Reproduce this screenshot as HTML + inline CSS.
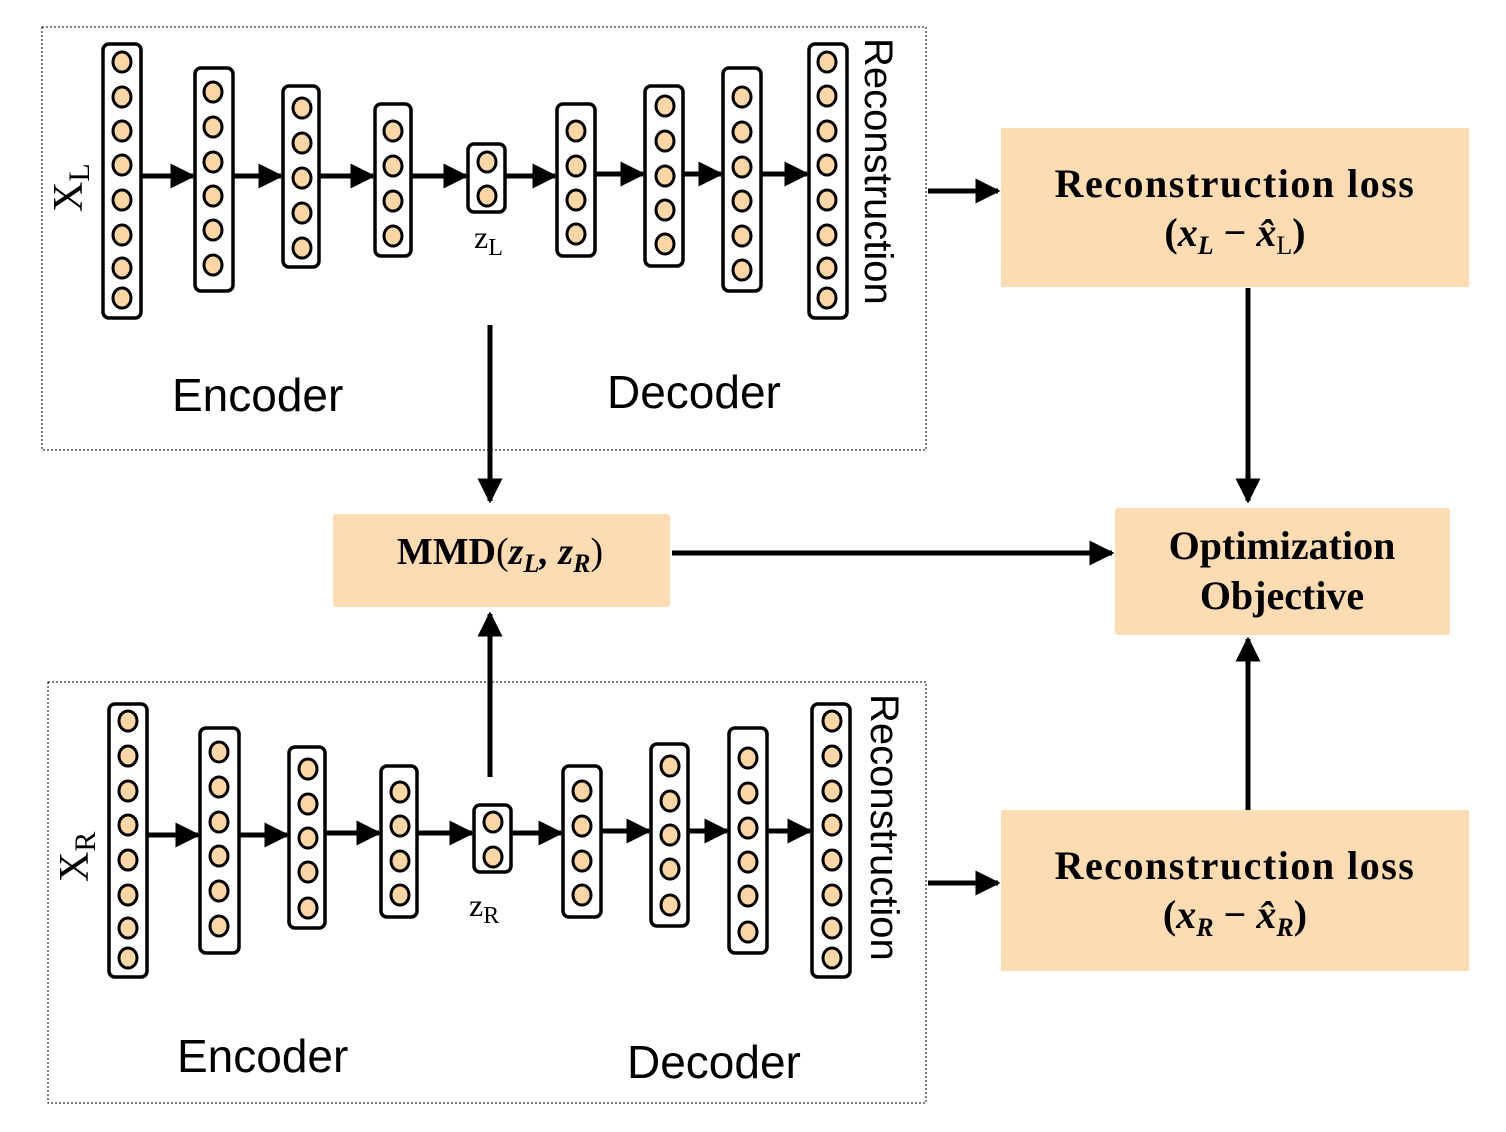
<!DOCTYPE html>
<html><head><meta charset="utf-8"><style>
html,body{margin:0;padding:0;background:#fff;}
svg{display:block}
.col{fill:#fff;stroke:#000;stroke-width:3.5}
.n{fill:#fcd6a6;stroke:#000;stroke-width:3}
.bx{fill:#fddcb4}
.t{font-family:"Liberation Serif",serif;font-weight:bold;fill:#000}
.s{font-family:"Liberation Sans",sans-serif;fill:#000}
</style></head><body>
<svg width="1506" height="1132" viewBox="0 0 1506 1132" xmlns="http://www.w3.org/2000/svg">
<defs>
<marker id="b" markerWidth="5" markerHeight="5" refX="4.5" refY="2.5" orient="auto" markerUnits="strokeWidth"><path d="M0,0L5,2.5L0,5z" fill="#000"/></marker>
</defs>
<rect x="42" y="27" width="884" height="423" fill="none" stroke="#000" stroke-width="1" stroke-dasharray="2,2"/>
<rect x="48" y="682" width="878" height="421" fill="none" stroke="#000" stroke-width="1" stroke-dasharray="2,2"/>

<g stroke="#000" stroke-width="5" marker-end="url(#b)">
<line x1="141" y1="176" x2="193" y2="176"/><line x1="233" y1="176" x2="281" y2="176"/>
<line x1="319" y1="176" x2="373" y2="176"/><line x1="411" y1="176" x2="466" y2="176"/>
<line x1="505" y1="176" x2="555" y2="176"/><line x1="595" y1="174" x2="643" y2="174"/>
<line x1="683" y1="174" x2="721" y2="174"/><line x1="761" y1="174" x2="807" y2="174"/>
<line x1="147" y1="835" x2="198" y2="835"/><line x1="239" y1="835" x2="287" y2="835"/>
<line x1="325" y1="833" x2="379" y2="833"/><line x1="417" y1="833" x2="472" y2="833"/>
<line x1="511" y1="833" x2="561" y2="833"/><line x1="601" y1="831" x2="649" y2="831"/>
<line x1="688" y1="831" x2="727" y2="831"/><line x1="767" y1="831" x2="810" y2="831"/>
</g>

<rect class="col" x="103" y="44" width="38" height="274" rx="6"/>
<g class="n"><ellipse cx="122" cy="62" rx="9" ry="10"/><ellipse cx="122" cy="97" rx="9" ry="10"/><ellipse cx="122" cy="131" rx="9" ry="10"/><ellipse cx="122" cy="165" rx="9" ry="10"/><ellipse cx="122" cy="200" rx="9" ry="10"/><ellipse cx="122" cy="235" rx="9" ry="10"/><ellipse cx="122" cy="268" rx="9" ry="10"/><ellipse cx="122" cy="298" rx="9" ry="10"/></g>
<rect class="col" x="195" y="68" width="38" height="223" rx="6"/>
<g class="n"><ellipse cx="213" cy="92" rx="9" ry="10"/><ellipse cx="213" cy="127" rx="9" ry="10"/><ellipse cx="213" cy="162" rx="9" ry="10"/><ellipse cx="213" cy="196" rx="9" ry="10"/><ellipse cx="213" cy="230" rx="9" ry="10"/><ellipse cx="213" cy="265" rx="9" ry="10"/></g>
<rect class="col" x="283" y="86" width="36" height="181" rx="6"/>
<g class="n"><ellipse cx="302" cy="108" rx="9" ry="10"/><ellipse cx="302" cy="143" rx="9" ry="10"/><ellipse cx="302" cy="178" rx="9" ry="10"/><ellipse cx="302" cy="213" rx="9" ry="10"/><ellipse cx="302" cy="248" rx="9" ry="10"/></g>
<rect class="col" x="375" y="104" width="36" height="152" rx="6"/>
<g class="n"><ellipse cx="393" cy="131" rx="9" ry="10"/><ellipse cx="393" cy="166" rx="9" ry="10"/><ellipse cx="393" cy="201" rx="9" ry="10"/><ellipse cx="393" cy="236" rx="9" ry="10"/></g>
<rect class="col" x="468" y="144" width="37" height="68" rx="6"/>
<g class="n"><ellipse cx="487" cy="162" rx="9" ry="10"/><ellipse cx="487" cy="196" rx="9" ry="10"/></g>
<rect class="col" x="557" y="104" width="38" height="152" rx="6"/>
<g class="n"><ellipse cx="576" cy="131" rx="9" ry="10"/><ellipse cx="576" cy="166" rx="9" ry="10"/><ellipse cx="576" cy="200" rx="9" ry="10"/><ellipse cx="576" cy="234" rx="9" ry="10"/></g>
<rect class="col" x="645" y="86" width="38" height="180" rx="6"/>
<g class="n"><ellipse cx="665" cy="106" rx="9" ry="10"/><ellipse cx="665" cy="141" rx="9" ry="10"/><ellipse cx="665" cy="176" rx="9" ry="10"/><ellipse cx="665" cy="210" rx="9" ry="10"/><ellipse cx="665" cy="244" rx="9" ry="10"/></g>
<rect class="col" x="723" y="68" width="38" height="223" rx="6"/>
<g class="n"><ellipse cx="742" cy="97" rx="9" ry="10"/><ellipse cx="742" cy="132" rx="9" ry="10"/><ellipse cx="742" cy="167" rx="9" ry="10"/><ellipse cx="742" cy="201" rx="9" ry="10"/><ellipse cx="742" cy="236" rx="9" ry="10"/><ellipse cx="742" cy="270" rx="9" ry="10"/></g>
<rect class="col" x="809" y="44" width="38" height="274" rx="6"/>
<g class="n"><ellipse cx="827" cy="62" rx="9" ry="10"/><ellipse cx="827" cy="96" rx="9" ry="10"/><ellipse cx="827" cy="131" rx="9" ry="10"/><ellipse cx="827" cy="165" rx="9" ry="10"/><ellipse cx="827" cy="200" rx="9" ry="10"/><ellipse cx="827" cy="235" rx="9" ry="10"/><ellipse cx="827" cy="268" rx="9" ry="10"/><ellipse cx="827" cy="298" rx="9" ry="10"/></g>

<rect class="col" x="109" y="704" width="38" height="273" rx="6"/>
<g class="n"><ellipse cx="128" cy="721" rx="9" ry="10"/><ellipse cx="128" cy="756" rx="9" ry="10"/><ellipse cx="128" cy="791" rx="9" ry="10"/><ellipse cx="128" cy="825" rx="9" ry="10"/><ellipse cx="128" cy="860" rx="9" ry="10"/><ellipse cx="128" cy="895" rx="9" ry="10"/><ellipse cx="128" cy="928" rx="9" ry="10"/><ellipse cx="128" cy="958" rx="9" ry="10"/></g>
<rect class="col" x="200" y="728" width="39" height="225" rx="6"/>
<g class="n"><ellipse cx="219" cy="752" rx="9" ry="10"/><ellipse cx="219" cy="787" rx="9" ry="10"/><ellipse cx="219" cy="822" rx="9" ry="10"/><ellipse cx="219" cy="856" rx="9" ry="10"/><ellipse cx="219" cy="891" rx="9" ry="10"/><ellipse cx="219" cy="926" rx="9" ry="10"/></g>
<rect class="col" x="289" y="747" width="36" height="181" rx="6"/>
<g class="n"><ellipse cx="308" cy="769" rx="9" ry="10"/><ellipse cx="308" cy="804" rx="9" ry="10"/><ellipse cx="308" cy="838" rx="9" ry="10"/><ellipse cx="308" cy="872" rx="9" ry="10"/><ellipse cx="308" cy="908" rx="9" ry="10"/></g>
<rect class="col" x="381" y="766" width="36" height="151" rx="6"/>
<g class="n"><ellipse cx="400" cy="792" rx="9" ry="10"/><ellipse cx="400" cy="826" rx="9" ry="10"/><ellipse cx="400" cy="861" rx="9" ry="10"/><ellipse cx="400" cy="895" rx="9" ry="10"/></g>
<rect class="col" x="474" y="805" width="37" height="67" rx="6"/>
<g class="n"><ellipse cx="493" cy="822" rx="9" ry="10"/><ellipse cx="493" cy="857" rx="9" ry="10"/></g>
<rect class="col" x="563" y="766" width="38" height="151" rx="6"/>
<g class="n"><ellipse cx="582" cy="791" rx="9" ry="10"/><ellipse cx="582" cy="826" rx="9" ry="10"/><ellipse cx="582" cy="861" rx="9" ry="10"/><ellipse cx="582" cy="895" rx="9" ry="10"/></g>
<rect class="col" x="651" y="744" width="37" height="182" rx="6"/>
<g class="n"><ellipse cx="670" cy="766" rx="9" ry="10"/><ellipse cx="670" cy="801" rx="9" ry="10"/><ellipse cx="670" cy="835" rx="9" ry="10"/><ellipse cx="670" cy="869" rx="9" ry="10"/><ellipse cx="670" cy="905" rx="9" ry="10"/></g>
<rect class="col" x="729" y="728" width="38" height="225" rx="6"/>
<g class="n"><ellipse cx="748" cy="758" rx="9" ry="10"/><ellipse cx="748" cy="793" rx="9" ry="10"/><ellipse cx="748" cy="828" rx="9" ry="10"/><ellipse cx="748" cy="862" rx="9" ry="10"/><ellipse cx="748" cy="896" rx="9" ry="10"/><ellipse cx="748" cy="932" rx="9" ry="10"/></g>
<rect class="col" x="812" y="704" width="38" height="273" rx="6"/>
<g class="n"><ellipse cx="832" cy="721" rx="9" ry="10"/><ellipse cx="832" cy="756" rx="9" ry="10"/><ellipse cx="832" cy="791" rx="9" ry="10"/><ellipse cx="832" cy="825" rx="9" ry="10"/><ellipse cx="832" cy="860" rx="9" ry="10"/><ellipse cx="832" cy="895" rx="9" ry="10"/><ellipse cx="832" cy="928" rx="9" ry="10"/><ellipse cx="832" cy="958" rx="9" ry="10"/></g>

<text class="s" x="172" y="411" font-size="46">Encoder</text>
<text class="s" x="607" y="408" font-size="46">Decoder</text>
<text class="s" x="177" y="1072" font-size="46">Encoder</text>
<text class="s" x="627" y="1078" font-size="46">Decoder</text>
<text class="s" font-size="40" transform="translate(865,38) rotate(90)">Reconstruction</text>
<text class="s" font-size="40" transform="translate(871,694) rotate(90)">Reconstruction</text>
<text font-family="Liberation Serif,serif" font-size="42" transform="translate(82,212) rotate(-90)">X<tspan font-size="30" dy="7">L</tspan></text>
<text font-family="Liberation Serif,serif" font-size="42" transform="translate(88,882) rotate(-90)">X<tspan font-size="30" dy="7">R</tspan></text>
<text font-family="Liberation Serif,serif" font-size="32" x="474" y="248">z<tspan font-size="24" dy="7">L</tspan></text>
<text font-family="Liberation Serif,serif" font-size="32" x="469" y="916">z<tspan font-size="24" dy="7">R</tspan></text>

<rect class="bx" x="1001" y="128" width="468" height="159"/>
<rect class="bx" x="1001" y="810" width="468" height="161"/>
<rect class="bx" x="333" y="514" width="337" height="93" rx="3"/>
<rect class="bx" x="1115" y="508" width="335" height="127" rx="3"/>
<text class="t" x="1235" y="197" font-size="40" text-anchor="middle" letter-spacing="1.5">Reconstruction loss</text>
<text class="t" x="1235" y="246" font-size="40" text-anchor="middle">(<tspan font-style="italic">x</tspan><tspan font-style="italic" font-size="26" dy="8">L</tspan><tspan dy="-8"> − </tspan><tspan font-style="italic">x̂</tspan><tspan font-weight="normal" font-size="26" dy="8">L</tspan><tspan dy="-8">)</tspan></text>
<text class="t" x="1235" y="879" font-size="40" text-anchor="middle" letter-spacing="1.5">Reconstruction loss</text>
<text class="t" x="1235" y="928" font-size="40" text-anchor="middle">(<tspan font-style="italic">x</tspan><tspan font-style="italic" font-size="26" dy="8">R</tspan><tspan dy="-8"> − </tspan><tspan font-style="italic">x̂</tspan><tspan font-style="italic" font-size="26" dy="8">R</tspan><tspan dy="-8">)</tspan></text>
<text class="t" x="500" y="564" font-size="38" text-anchor="middle">MMD<tspan font-weight="normal">(</tspan><tspan font-style="italic">z</tspan><tspan font-style="italic" font-size="26" dy="8">L</tspan><tspan dy="-8" font-style="italic">, z</tspan><tspan font-style="italic" font-size="26" dy="8">R</tspan><tspan dy="-8" font-weight="normal">)</tspan></text>
<text class="t" x="1282" y="559" font-size="40" text-anchor="middle">Optimization</text>
<text class="t" x="1282" y="609" font-size="40" text-anchor="middle">Objective</text>

<g stroke="#000" stroke-width="5" marker-end="url(#b)">
<line x1="928" y1="191" x2="998" y2="191"/>
<line x1="928" y1="883" x2="998" y2="883"/>
<line x1="490" y1="325" x2="490" y2="501"/>
<line x1="490" y1="777" x2="490" y2="614"/>
<line x1="1248" y1="288" x2="1248" y2="501"/>
<line x1="1248" y1="810" x2="1248" y2="639"/>
<line x1="672" y1="553" x2="1112" y2="553"/>
</g>
</svg>
</body></html>
